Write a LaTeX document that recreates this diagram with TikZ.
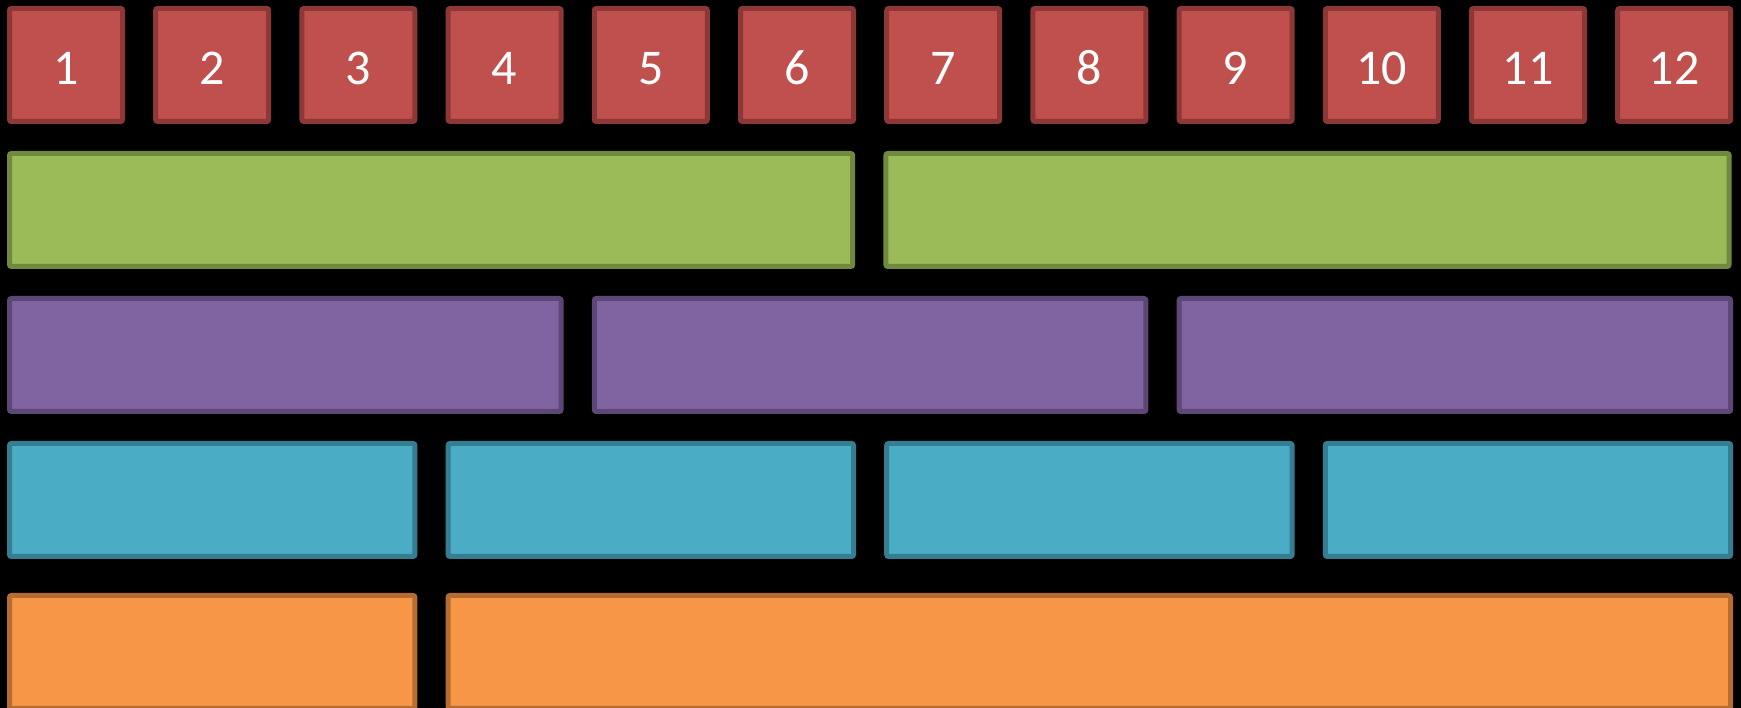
\documentclass[tikz,border=0pt]{standalone}
\usepackage{fontspec}
\setmainfont{Carlito}
\usepackage{xcolor}
\usetikzlibrary{positioning}
\definecolor{CellRed}{HTML}{C0504D}
\definecolor{CellRedDark}{HTML}{8C3836}
\definecolor{CellGreen}{HTML}{9BBB59}
\definecolor{CellGreenDark}{HTML}{71893F}
\definecolor{CellPurple}{HTML}{8064A2}
\definecolor{CellPurpleDark}{HTML}{5C4776}
\definecolor{CellBlue}{HTML}{4BACC6}
\definecolor{CellBlueDark}{HTML}{357D91}
\definecolor{CellOrange}{HTML}{F79646}
\definecolor{CellOrangeDark}{HTML}{B66D31}

\begin{document}
\begin{tikzpicture}[
  x=1pt, y=1pt,
  node distance=28.2pt,
  cell/.style={rounded corners=2pt, line width=5pt, inner sep=0pt, minimum height=113pt, anchor=north west},
  redcell/.style={cell, draw=CellRedDark, fill=CellRed, minimum width=113pt, text=white,
    font=\fontsize{50}{52}\selectfont, text height=39pt, text depth=0pt},
  greencell/.style={cell, draw=CellGreenDark, fill=CellGreen, minimum width=843.2pt},
  purplecell/.style={cell, draw=CellPurpleDark, fill=CellPurple, minimum width=551.6pt},
  bluecell/.style={cell, draw=CellBlueDark, fill=CellBlue, minimum width=405.4pt},
  orangecell/.style={cell, draw=CellOrangeDark, fill=CellOrange, minimum width=405.4pt}
]
  \fill[black] (0,0) rectangle (1741,708);
  \useasboundingbox (0,0) rectangle (1741,708);

  % twelve numbered cells
  \node[redcell] (n1) at (7,702) {1};
  \foreach \i [count=\j from 1] in {2,...,12}
    \node[redcell, right=of n\j] (n\i) {\i};

  % halves
  \node[greencell] (g1) at (7,557) {};
  \node[greencell, right=of g1] (g2) {};

  % thirds
  \node[purplecell] (p1) at (7,412) {};
  \node[purplecell, right=of p1] (p2) {};
  \node[purplecell, right=of p2] (p3) {};

  % quarters
  \node[bluecell] (q1) at (7,267) {};
  \node[bluecell, right=of q1] (q2) {};
  \node[bluecell, right=of q2] (q3) {};
  \node[bluecell, right=of q3] (q4) {};

  % one quarter + rest
  \node[orangecell] (o1) at (7,115) {};
  \node[orangecell, minimum width=1282.4pt, right=of o1] (o2) {};
\end{tikzpicture}
\end{document}
